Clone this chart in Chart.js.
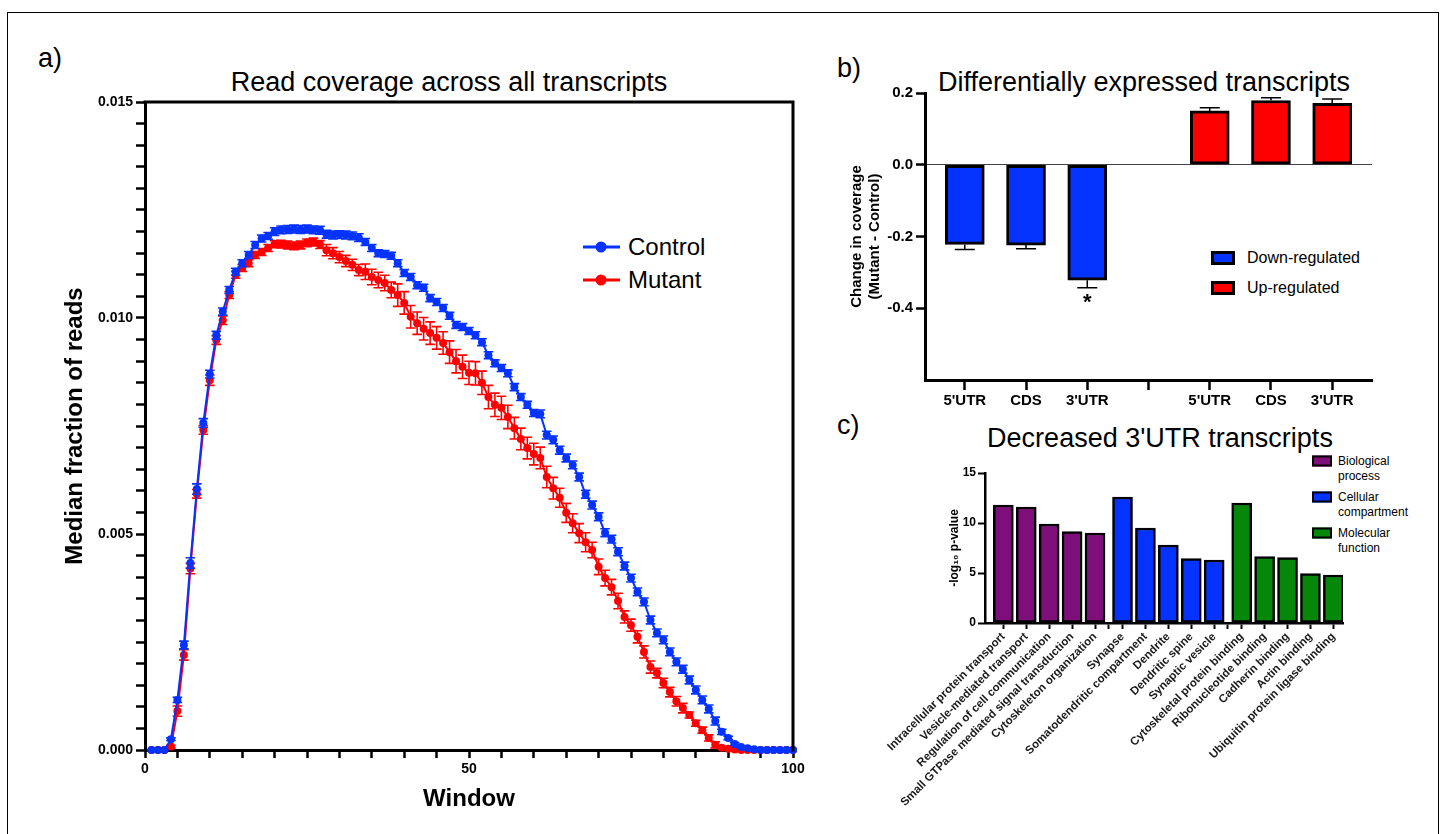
<!DOCTYPE html>
<html>
<head>
<meta charset="utf-8">
<script src="https://cdn.jsdelivr.net/npm/chart.js@4.4.1/dist/chart.umd.min.js"></script>
<style>
  body { margin: 0; background: #fff; font-family: "Liberation Sans", Arial, Helvetica, sans-serif; color: #000; }
  #page { position: relative; width: 1442px; height: 834px; overflow: hidden; }
  canvas { position: absolute; }
  .frame { position: absolute; left: 7px; top: 12px; width: 1430px; height: 850px; border: 1.5px solid #000; }
  .letter { position: absolute; font-size: 27px; transform: translateY(-50%); }
  .title { position: absolute; font-size: 27px; white-space: nowrap; transform: translate(-50%, -50%); }
  .leg { position: absolute; white-space: nowrap; transform: translateY(-50%); }
  .swatch { position: absolute; box-sizing: border-box; border: 3px solid #000; transform: translateY(-50%); }
  .lineMark { position: absolute; height: 3px; transform: translateY(-50%); }
  .dotMark { position: absolute; width: 11px; height: 11px; border-radius: 50%; transform: translate(-50%, -50%); }
</style>
</head>
<body>
<div id="page">
  <div class="frame"></div>

  <div class="letter" style="left:38px; top:58px;">a)</div>
  <div class="letter" style="left:837px; top:68px;">b)</div>
  <div class="letter" style="left:837px; top:425px;">c)</div>

  <div class="title" style="left:449px; top:82px;">Read coverage across all transcripts</div>
  <div class="title" style="left:1144px; top:82px;">Differentially expressed transcripts</div>
  <div class="title" style="left:1160px; top:438px;">Decreased 3'UTR transcripts</div>

  <!-- legend a -->
  <div class="lineMark" style="left:583px; top:247px; width:37px; background:#0433FF;"></div>
  <div class="dotMark" style="left:601px; top:247px; background:#0433FF;"></div>
  <div class="leg" style="left:628px; top:247px; font-size:24px;">Control</div>
  <div class="lineMark" style="left:583px; top:280px; width:37px; background:#FF0000;"></div>
  <div class="dotMark" style="left:601px; top:280px; background:#FF0000;"></div>
  <div class="leg" style="left:628px; top:280px; font-size:24px;">Mutant</div>

  <!-- legend b -->
  <div class="swatch" style="left:1211px; top:258px; width:24px; height:14px; background:#0433FF;"></div>
  <div class="leg" style="left:1247px; top:258px; font-size:16px;">Down-regulated</div>
  <div class="swatch" style="left:1211px; top:288px; width:24px; height:14px; background:#FF0000;"></div>
  <div class="leg" style="left:1247px; top:288px; font-size:16px;">Up-regulated</div>

  <!-- legend c -->
  <div class="swatch" style="left:1312px; top:461px; width:20px; height:11px; border-width:2px; background:#7E0F7A;"></div>
  <div class="leg" style="left:1338px; top:469px; font-size:12px; line-height:15px;">Biological<br>process</div>
  <div class="swatch" style="left:1312px; top:497px; width:20px; height:11px; border-width:2px; background:#0433FF;"></div>
  <div class="leg" style="left:1338px; top:505px; font-size:12px; line-height:15px;">Cellular<br>compartment</div>
  <div class="swatch" style="left:1312px; top:533px; width:20px; height:11px; border-width:2px; background:#05870A;"></div>
  <div class="leg" style="left:1338px; top:541px; font-size:12px; line-height:15px;">Molecular<br>function</div>

  <canvas id="chartA" width="830" height="834" style="left:0; top:0;"></canvas>
  <canvas id="chartB" width="612" height="420" style="left:830px; top:0;"></canvas>
  <canvas id="chartC" width="612" height="424" style="left:830px; top:410px;"></canvas>
</div>

<script>
// ---- panel a data: median fraction of reads per window ----
const windows = [1, 2, 3, 4, 5, 6, 7, 8, 9, 10, 11, 12, 13, 14, 15, 16, 17, 18, 19, 20,
  21, 22, 23, 24, 25, 26, 27, 28, 29, 30, 31, 32, 33, 34, 35, 36, 37, 38, 39, 40,
  41, 42, 43, 44, 45, 46, 47, 48, 49, 50, 51, 52, 53, 54, 55, 56, 57, 58, 59, 60,
  61, 62, 63, 64, 65, 66, 67, 68, 69, 70, 71, 72, 73, 74, 75, 76, 77, 78, 79, 80,
  81, 82, 83, 84, 85, 86, 87, 88, 89, 90, 91, 92, 93, 94, 95, 96, 97, 98, 99, 100];

const control = [0, 0, 0, 0.00025, 0.00116, 0.00243, 0.00433, 0.00604, 0.00757, 0.0087,
  0.0096, 0.01015, 0.01065, 0.01107, 0.01127, 0.01146, 0.01169, 0.01184, 0.0119, 0.012,
  0.01204, 0.01205, 0.01206, 0.01205, 0.01206, 0.01204, 0.01203, 0.01194, 0.01192, 0.01193,
  0.01192, 0.0119, 0.01186, 0.01176, 0.01162, 0.0115, 0.01148, 0.01144, 0.01127, 0.01104,
  0.01095, 0.01076, 0.0107, 0.01046, 0.01037, 0.01023, 0.01005, 0.00984, 0.00979, 0.0097,
  0.0096, 0.00944, 0.00914, 0.00895, 0.00884, 0.00872, 0.0084, 0.00817, 0.00799, 0.0078,
  0.00778, 0.00729, 0.00718, 0.00694, 0.00676, 0.0066, 0.00632, 0.00592, 0.00567, 0.0054,
  0.00503, 0.00488, 0.00459, 0.00426, 0.00398, 0.00366, 0.00343, 0.00301, 0.00271, 0.00255,
  0.00227, 0.00204, 0.00187, 0.00162, 0.00139, 0.00116, 0.00095, 0.00067, 0.00042, 0.00028,
  0.00014, 0.00007, 0.00004, 0.00002, 0, 0, 0, 0, 0, 0];

const controlErr = [0, 0, 0, 0.00003, 0.00006, 0.00009, 0.00012, 0.00012, 0.0001, 0.00009,
  0.00009, 0.00008, 0.00008, 0.00008, 0.00008, 0.00008, 0.00008, 0.00008, 0.00008, 0.00009,
  0.00009, 0.00009, 0.00009, 0.00009, 0.00009, 0.00009, 0.00009, 0.00009, 0.00009, 0.00009,
  0.00009, 0.00009, 0.00009, 0.00008, 0.00008, 0.00008, 0.00008, 0.00008, 0.00008, 0.00008,
  0.00008, 0.00008, 0.00008, 0.00008, 0.00008, 0.00008, 0.00008, 0.00008, 0.00008, 0.00008,
  0.00008, 0.00008, 0.00008, 0.00008, 0.00008, 0.00008, 0.00008, 0.00008, 0.00008, 0.00008,
  0.00009, 0.00009, 0.00009, 0.00009, 0.00009, 0.00009, 0.00009, 0.00009, 0.00009, 0.00009,
  0.00009, 0.00009, 0.00009, 0.00009, 0.00009, 0.00009, 0.00009, 0.00009, 0.00009, 0.00009,
  0.00009, 0.00009, 0.00009, 0.00009, 0.00009, 0.00009, 0.00009, 0.00009, 0.00006, 0.00004,
  0.00003, 0.00002, 0.00002, 0.00001, 0, 0, 0, 0, 0, 0];

const mutant = [0, 0, 0, 0.00008, 0.0009, 0.0022, 0.0042, 0.00593, 0.00741, 0.00856,
  0.00949, 0.00995, 0.01053, 0.011, 0.01116, 0.01127, 0.01146, 0.01153, 0.01162, 0.01171,
  0.01171, 0.01169, 0.01167, 0.01169, 0.01174, 0.01176, 0.0117, 0.01157, 0.0115, 0.01141,
  0.01132, 0.01123, 0.01111, 0.01107, 0.01095, 0.01088, 0.01081, 0.01065, 0.01053, 0.01035,
  0.01003, 0.00988, 0.00975, 0.00965, 0.00954, 0.00942, 0.00921, 0.009, 0.00887, 0.00873,
  0.00872, 0.0085, 0.00817, 0.00799, 0.00792, 0.00771, 0.00745, 0.0072, 0.00699, 0.00685,
  0.00676, 0.00632, 0.00606, 0.00584, 0.00549, 0.00525, 0.00502, 0.00481, 0.00463, 0.00424,
  0.00398, 0.00377, 0.00345, 0.00308, 0.00289, 0.00262, 0.00227, 0.00192, 0.00178, 0.00155,
  0.00134, 0.00113, 0.00097, 0.00081, 0.00062, 0.00046, 0.00028, 0.00012, 0.00005, 0.00003,
  0.00001, 0, 0, 0, 0, 0, 0, 0, 0, 0];

const mutantErr = [0, 0, 0, 0.00003, 0.00012, 0.00012, 0.00012, 0.0001, 0.0001, 0.00012,
  0.0001, 0.0001, 0.00008, 0.00008, 0.00008, 0.00008, 0.00008, 0.00008, 0.00008, 0.00008,
  0.00009, 0.00009, 0.00009, 0.00009, 0.00009, 0.00009, 0.00009, 0.00013, 0.00013, 0.00013,
  0.00013, 0.00013, 0.00013, 0.00018, 0.00018, 0.00018, 0.00018, 0.00018, 0.00026, 0.00026,
  0.00026, 0.00026, 0.00026, 0.00026, 0.00026, 0.00026, 0.00026, 0.00027, 0.00027, 0.00027,
  0.00027, 0.00027, 0.00027, 0.00027, 0.00027, 0.00027, 0.00025, 0.00025, 0.00025, 0.00025,
  0.00025, 0.00025, 0.00025, 0.00022, 0.00022, 0.00022, 0.00022, 0.00022, 0.00018, 0.00018,
  0.00018, 0.00018, 0.00018, 0.00014, 0.00014, 0.00014, 0.00014, 0.00014, 0.00011, 0.00011,
  0.00011, 0.00011, 0.00011, 0.00007, 0.00007, 0.00007, 0.00007, 0.00007, 0.00002, 0.00002,
  0.00001, 0, 0, 0, 0, 0, 0, 0, 0, 0];

const aYTicks = [0, 0.005, 0.010, 0.015];
const aYTickLabels = ['0.000', '0.005', '0.010', '0.015'];
const aXTicks = [0, 50, 100];
const aXTickLabels = ['0', '50', '100'];

// ---- panel b data: change in coverage (mutant - control) ----
const bLabels = ["5'UTR", "CDS", "3'UTR", "", "5'UTR", "CDS", "3'UTR"];
const bDownSlots = [0, 1, 2];
const bDown = [-0.222, -0.224, -0.322];
const bDownErr = [0.014, 0.01, 0.021];
const bDownStar = [false, false, true];
const bUpSlots = [4, 5, 6];
const bUp = [0.15, 0.179, 0.171];
const bUpErr = [0.009, 0.008, 0.012];
const bYTicks = [-0.6, -0.4, -0.2, 0, 0.2];
const bYTickLabels = ['', '-0.4', '-0.2', '0.0', '0.2'];

// ---- panel c data: GO terms, -log10 p-value ----
const cLabels = ['Intracellular protein transport', 'Vesicle-mediated transport', 'Regulation of cell communication',
  'Small GTPase mediated signal transduction', 'Cytoskeleton organization',
  'Synapse', 'Somatodendritic compartment', 'Dendrite', 'Dendritic spine', 'Synaptic vesicle',
  'Cytoskeletal protein binding', 'Ribonucleotide binding', 'Cadherin binding', 'Actin binding', 'Ubiquitin protein ligase binding'];
const cValues = [11.8, 11.6, 9.9, 9.15, 9.0, 12.6, 9.5, 7.8, 6.45, 6.3, 12.0, 6.65, 6.55, 4.95, 4.8];
const cGroup = [0, 0, 0, 0, 0, 1, 1, 1, 1, 1, 2, 2, 2, 2, 2];
const cGroupNames = ['Biological process', 'Cellular compartment', 'Molecular function'];
const cYTicks = [0, 5, 10, 15];

const BLUE = '#0433FF';
const RED = '#FF0000';
const cColors = ['#7E0F7A', BLUE, '#05870A'];

Chart.defaults.font.family = '"Liberation Sans", Arial, Helvetica, sans-serif';
Chart.defaults.color = '#000';
Chart.defaults.animation = false;

const bold = (size) => ({ family: Chart.defaults.font.family, size: size, weight: 'bold' });

// error bars for the line chart, drawn under each dataset's own line
const lineErrors = {
  id: 'lineErrors',
  beforeDatasetDraw(chart, args) {
    const errs = [controlErr, mutantErr][args.index];
    const ds = chart.data.datasets[args.index];
    const ys = chart.scales.y;
    const ctx = chart.ctx;
    ctx.save();
    ctx.strokeStyle = ds.borderColor;
    ctx.lineWidth = 1.6;
    args.meta.data.forEach((pt, i) => {
      const e = errs[i];
      if (!e) return;
      const v = ds.data[i].y;
      const top = ys.getPixelForValue(v + e);
      const bot = ys.getPixelForValue(v - e);
      ctx.beginPath();
      ctx.moveTo(pt.x, top); ctx.lineTo(pt.x, bot);
      ctx.moveTo(pt.x - 4.8, top); ctx.lineTo(pt.x + 4.8, top);
      ctx.moveTo(pt.x - 4.8, bot); ctx.lineTo(pt.x + 4.8, bot);
      ctx.stroke();
    });
    ctx.restore();
  }
};

// top and right border of the plot box in panel a
const boxFrame = {
  id: 'boxFrame',
  afterDraw(chart) {
    const { ctx, chartArea: a } = chart;
    ctx.save();
    ctx.strokeStyle = '#000';
    ctx.lineWidth = 3;
    ctx.beginPath();
    ctx.moveTo(a.left - 1.5, a.top);
    ctx.lineTo(a.right, a.top);
    ctx.lineTo(a.right, a.bottom + 1.5);
    ctx.stroke();
    ctx.restore();
  }
};

// one-sided error bars and significance star for panel b
const barErrors = {
  id: 'barErrors',
  afterDatasetsDraw(chart) {
    const ctx = chart.ctx;
    const ys = chart.scales.y;
    const errSets = [bDownErr, bUpErr];
    const stars = [bDownStar, [false, false, false]];
    ctx.save();
    ctx.strokeStyle = '#000';
    ctx.fillStyle = '#000';
    ctx.lineWidth = 1.5;
    chart.data.datasets.forEach((ds, d) => {
      chart.getDatasetMeta(d).data.forEach((bar, i) => {
        const v = ds.data[i].y;
        const end = v + Math.sign(v) * errSets[d][i];
        const y1 = ys.getPixelForValue(v);
        const y2 = ys.getPixelForValue(end);
        ctx.beginPath();
        ctx.moveTo(bar.x, y1); ctx.lineTo(bar.x, y2);
        ctx.moveTo(bar.x - 10, y2); ctx.lineTo(bar.x + 10, y2);
        ctx.stroke();
        if (stars[d][i]) {
          ctx.font = 'bold 22px "Liberation Sans", Arial, sans-serif';
          ctx.textAlign = 'center';
          ctx.textBaseline = 'top';
          ctx.fillText('*', bar.x, y2 + 4);
        }
      });
    });
    ctx.restore();
  }
};

// ---------------- panel a ----------------
new Chart(document.getElementById('chartA'), {
  type: 'line',
  data: {
    datasets: [
      {
        label: 'Control',
        data: windows.map((w, i) => ({ x: w, y: control[i] })),
        borderColor: BLUE, backgroundColor: BLUE, borderWidth: 2,
        pointRadius: 4, pointBorderWidth: 0, pointHoverRadius: 4, clip: false
      },
      {
        label: 'Mutant',
        data: windows.map((w, i) => ({ x: w, y: mutant[i] })),
        borderColor: RED, backgroundColor: RED, borderWidth: 2,
        pointRadius: 4, pointBorderWidth: 0, pointHoverRadius: 4, clip: false
      }
    ]
  },
  options: {
    responsive: false,
    devicePixelRatio: 1,
    layout: { padding: { left: 57, top: 102, right: 37, bottom: 16 } },
    plugins: { legend: { display: false }, tooltip: { enabled: false } },
    scales: {
      x: {
        type: 'linear', min: 0, max: 100,
        afterBuildTicks: (s) => {
          const t = [];
          for (let v = 0; v <= 100; v += 5) t.push({ value: v });
          s.ticks = t;
        },
        afterFit: (s) => { s.height = 68; },
        ticks: {
          autoSkip: false, maxRotation: 0, padding: 3, font: bold(14),
          callback: (v) => { const k = aXTicks.indexOf(v); return k >= 0 ? aXTickLabels[k] : ''; }
        },
        grid: { drawOnChartArea: false, tickLength: 8, tickWidth: 2.5, tickColor: '#000' },
        border: { color: '#000', width: 3 },
        title: { display: true, text: 'Window', font: bold(24), padding: 4 }
      },
      y: {
        type: 'linear', min: 0, max: 0.015,
        afterBuildTicks: (s) => {
          const t = [];
          for (let k = 0; k <= 30; k++) t.push({ value: k * 0.0005 });
          s.ticks = t;
        },
        afterFit: (s) => { s.width = 88; },
        ticks: {
          autoSkip: false, padding: 3, font: bold(14),
          callback: (v) => {
            const k = aYTicks.findIndex((m) => Math.abs(m - v) < 1e-9);
            return k >= 0 ? aYTickLabels[k] : '';
          }
        },
        grid: { drawOnChartArea: false, tickLength: 9, tickWidth: 2.5, tickColor: '#000' },
        border: { color: '#000', width: 3 },
        title: { display: true, text: 'Median fraction of reads', font: bold(24), padding: 4 }
      }
    }
  },
  plugins: [lineErrors, boxFrame]
});

// ---------------- panel b ----------------
new Chart(document.getElementById('chartB'), {
  type: 'bar',
  data: {
    datasets: [
      {
        label: 'Down-regulated',
        data: bDown.map((v, i) => ({ x: bDownSlots[i], y: v })),
        backgroundColor: BLUE, borderColor: '#000', borderWidth: 3, borderSkipped: false,
        barThickness: 39, grouped: false
      },
      {
        label: 'Up-regulated',
        data: bUp.map((v, i) => ({ x: bUpSlots[i], y: v })),
        backgroundColor: RED, borderColor: '#000', borderWidth: 3, borderSkipped: false,
        barThickness: 39, grouped: false
      }
    ]
  },
  options: {
    responsive: false,
    devicePixelRatio: 1,
    layout: { padding: { left: 14, top: 93, right: 70, bottom: 0 } },
    plugins: { legend: { display: false }, tooltip: { enabled: false } },
    scales: {
      x: {
        type: 'linear', min: -0.65, max: 6.65, offset: false,
        afterBuildTicks: (s) => { s.ticks = bLabels.map((l, i) => ({ value: i })); },
        afterFit: (s) => { s.height = 40; },
        ticks: { autoSkip: false, maxRotation: 0, padding: 2, font: bold(15), callback: (v, i) => bLabels[i] },
        grid: { drawOnChartArea: false, offset: false, tickLength: 10, tickWidth: 2.5, tickColor: '#000' },
        border: { color: '#000', width: 3 }
      },
      y: {
        type: 'linear', min: -0.6, max: 0.2,
        afterBuildTicks: (s) => { s.ticks = bYTicks.map((v) => ({ value: v })); },
        afterFit: (s) => { s.width = 81; },
        ticks: { autoSkip: false, padding: 3, font: bold(15), callback: (v, i) => bYTickLabels[i] },
        grid: {
          drawOnChartArea: true, lineWidth: 1, tickLength: 9, tickWidth: 2.5,
          color: (c) => (c.tick && c.tick.value === 0 ? '#444' : 'rgba(0,0,0,0)'),
          tickColor: (c) => (c.tick && c.tick.value === -0.6 ? 'rgba(0,0,0,0)' : '#000')
        },
        border: { color: '#000', width: 3 },
        title: { display: true, text: ['Change in coverage', '(Mutant - Control)'], font: bold(15), padding: 4 }
      }
    }
  },
  plugins: [barErrors]
});

// ---------------- panel c ----------------
const cPos = cGroup.map((g, i) => i + g * 0.2);
const cTickVals = [];
const cTickText = [];
cPos.forEach((p, i) => {
  if (i > 0 && cGroup[i] !== cGroup[i - 1]) {
    cTickVals.push((cPos[i - 1] + p) / 2);
    cTickText.push('');
  }
  cTickVals.push(p);
  cTickText.push(cLabels[i]);
});

new Chart(document.getElementById('chartC'), {
  type: 'bar',
  data: {
    datasets: cGroupNames.map((name, g) => ({
      label: name,
      data: cValues.map((v, i) => ({ x: cPos[i], y: v })).filter((d, i) => cGroup[i] === g),
      backgroundColor: cColors[g], borderColor: '#000', borderWidth: 2.5, borderSkipped: false,
      barThickness: 20, grouped: false
    }))
  },
  options: {
    responsive: false,
    devicePixelRatio: 1,
    layout: { padding: { left: 113, top: 63, right: 99, bottom: 0 } },
    plugins: { legend: { display: false }, tooltip: { enabled: false } },
    scales: {
      x: {
        type: 'linear', min: -0.8, max: 14.82, offset: false,
        afterBuildTicks: (s) => { s.ticks = cTickVals.map((v) => ({ value: v })); },
        afterFit: (s) => { s.height = 211; },
        ticks: {
          autoSkip: false, minRotation: 45, maxRotation: 45, padding: 1, font: bold(11.5), color: '#1a1a1a',
          callback: (v, i) => cTickText[i]
        },
        grid: { drawOnChartArea: false, offset: false, tickLength: 6, tickWidth: 2, tickColor: '#000' },
        border: { color: '#000', width: 2.5 }
      },
      y: {
        type: 'linear', min: 0, max: 15,
        afterBuildTicks: (s) => { s.ticks = cYTicks.map((v) => ({ value: v })); },
        afterFit: (s) => { s.width = 42; },
        ticks: { autoSkip: false, padding: 2, font: bold(12) },
        grid: { drawOnChartArea: false, tickLength: 7, tickWidth: 2, tickColor: '#000' },
        border: { color: '#000', width: 2.5 },
        title: { display: true, text: '-log\u2081\u2080 p-value', font: bold(12), padding: 4 }
      }
    }
  }
});
</script>
</body>
</html>
